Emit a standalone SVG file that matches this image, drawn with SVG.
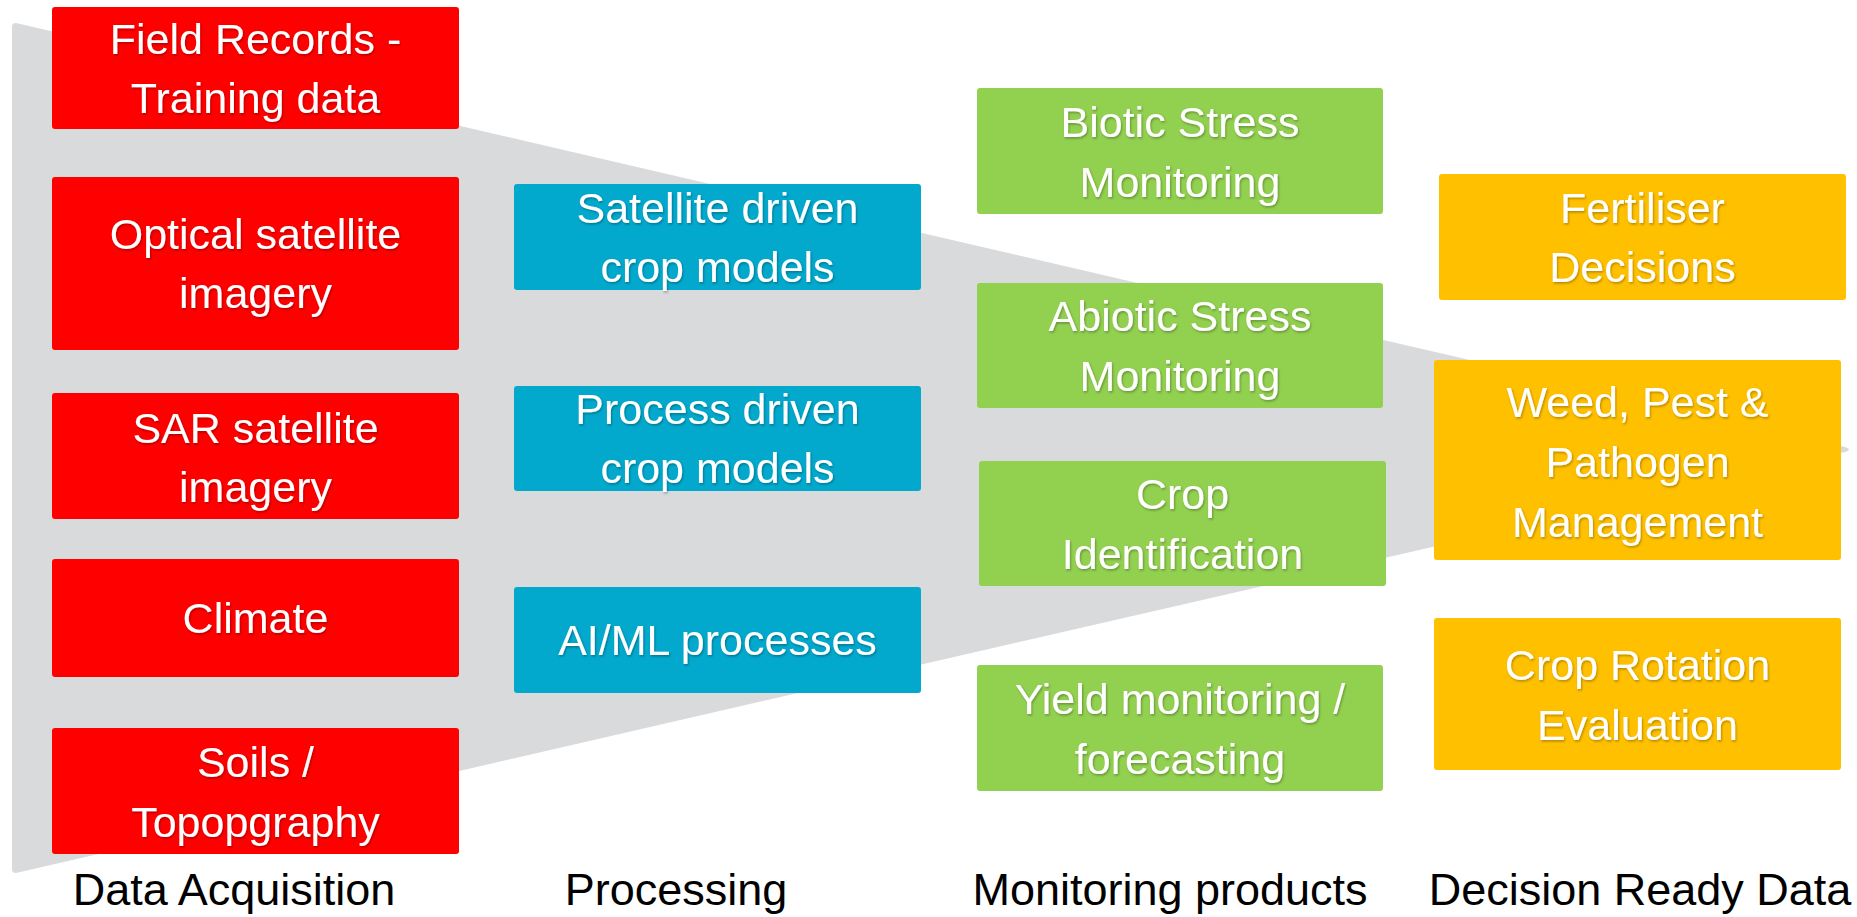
<svg xmlns="http://www.w3.org/2000/svg" width="1857" height="917" viewBox="0 0 1857 917">
  <defs>
    <filter id="ts" x="-10%" y="-30%" width="120%" height="160%">
      <feDropShadow dx="1" dy="1.5" stdDeviation="1" flood-color="#000" flood-opacity="0.3"/>
    </filter>
    <style>
      .box { stroke: none; }
      .red { fill: #FF0000; }
      .blue { fill: #02A9CD; }
      .green { fill: #92D050; }
      .orange { fill: #FFC000; }
      .bt { font-family: "Liberation Sans", Arial, sans-serif; font-size: 43px; fill: #FFFFFF; text-anchor: middle; filter: url(#ts); }
      .lbl { font-family: "Liberation Sans", Arial, sans-serif; font-size: 45px; fill: #000000; text-anchor: middle; }
    </style>
  </defs>
  <rect width="1857" height="917" fill="#FFFFFF"/>

  <g id="funnel">
    <path d="M16,23 L1845,447 Q1853,449.5 1845,452 L16,873 Q12,873 12,869 L12,27 Q12,23 16,23 Z" fill="#D9DADC"/>
  </g>

  <g id="connectors"></g>

  <g id="field-records">
    <rect class="box red" x="52" y="7" width="407" height="122" rx="3"/>
    <text class="bt" x="255.5" y="54">Field Records -</text>
    <text class="bt" x="255.5" y="113">Training data</text>
  </g>
  <g id="optical">
    <rect class="box red" x="52" y="177" width="407" height="173" rx="3"/>
    <text class="bt" x="255.5" y="249">Optical satellite</text>
    <text class="bt" x="255.5" y="308">imagery</text>
  </g>
  <g id="sar">
    <rect class="box red" x="52" y="393" width="407" height="126" rx="3"/>
    <text class="bt" x="255.5" y="443">SAR satellite</text>
    <text class="bt" x="255.5" y="502">imagery</text>
  </g>
  <g id="climate">
    <rect class="box red" x="52" y="559" width="407" height="118" rx="3"/>
    <text class="bt" x="255.5" y="633">Climate</text>
  </g>
  <g id="soils">
    <rect class="box red" x="52" y="728" width="407" height="126" rx="3"/>
    <text class="bt" x="255.5" y="777">Soils /</text>
    <text class="bt" x="255.5" y="837">Topopgraphy</text>
  </g>

  <g id="satellite-models">
    <rect class="box blue" x="514" y="184" width="407" height="106" rx="3"/>
    <text class="bt" x="717.5" y="223">Satellite driven</text>
    <text class="bt" x="717.5" y="282">crop models</text>
  </g>
  <g id="process-models">
    <rect class="box blue" x="514" y="386" width="407" height="105" rx="3"/>
    <text class="bt" x="717.5" y="424">Process driven</text>
    <text class="bt" x="717.5" y="483">crop models</text>
  </g>
  <g id="aiml">
    <rect class="box blue" x="514" y="587" width="407" height="106" rx="3"/>
    <text class="bt" x="717.5" y="655">AI/ML processes</text>
  </g>

  <g id="biotic">
    <rect class="box green" x="977" y="88" width="406" height="126" rx="3"/>
    <text class="bt" x="1180" y="137">Biotic Stress</text>
    <text class="bt" x="1180" y="197">Monitoring</text>
  </g>
  <g id="abiotic">
    <rect class="box green" x="977" y="283" width="406" height="125" rx="3"/>
    <text class="bt" x="1180" y="331">Abiotic Stress</text>
    <text class="bt" x="1180" y="391">Monitoring</text>
  </g>
  <g id="crop-id">
    <rect class="box green" x="979" y="461" width="407" height="125" rx="3"/>
    <text class="bt" x="1182.5" y="509">Crop</text>
    <text class="bt" x="1182.5" y="569">Identification</text>
  </g>
  <g id="yield">
    <rect class="box green" x="977" y="665" width="406" height="126" rx="3"/>
    <text class="bt" x="1180" y="714">Yield monitoring /</text>
    <text class="bt" x="1180" y="774">forecasting</text>
  </g>

  <g id="fertiliser">
    <rect class="box orange" x="1439" y="174" width="407" height="126" rx="3"/>
    <text class="bt" x="1642.5" y="223">Fertiliser</text>
    <text class="bt" x="1642.5" y="282">Decisions</text>
  </g>
  <g id="weed">
    <rect class="box orange" x="1434" y="360" width="407" height="200" rx="3"/>
    <text class="bt" x="1637.5" y="417">Weed, Pest &amp;</text>
    <text class="bt" x="1637.5" y="477">Pathogen</text>
    <text class="bt" x="1637.5" y="537">Management</text>
  </g>
  <g id="rotation">
    <rect class="box orange" x="1434" y="618" width="407" height="152" rx="3"/>
    <text class="bt" x="1637.5" y="680">Crop Rotation</text>
    <text class="bt" x="1637.5" y="740">Evaluation</text>
  </g>

  <g id="labels">
    <text class="lbl" x="234" y="905">Data Acquisition</text>
    <text class="lbl" x="676" y="905">Processing</text>
    <text class="lbl" x="1170" y="905">Monitoring products</text>
    <text class="lbl" x="1640" y="905">Decision Ready Data</text>
  </g>
</svg>
